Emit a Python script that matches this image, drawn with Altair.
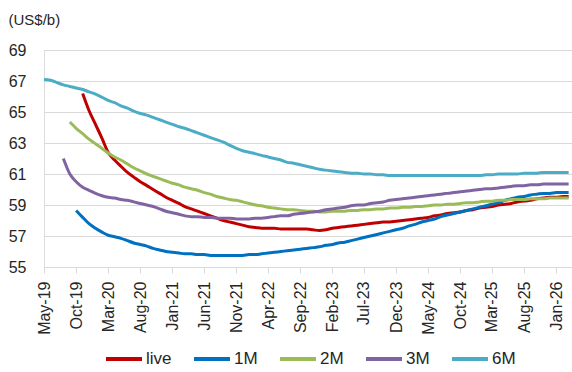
import altair as alt
import pandas as pd

SERIES = ["live", "1M", "2M", "3M", "6M"]
COLORS = ["#C00000", "#0070C0", "#9BBB59", "#8064A2", "#4BACC6"]
# first month of each curve, counted in months from May-2019
START_MONTH = [6, 5, 4, 3, 0]

LIVE = [66.2, 65.1, 64.2, 63.3, 62.4, 61.9, 61.5, 61.1, 60.8, 60.5,
        60.25, 60.0, 59.75, 59.5, 59.3, 59.1, 58.9, 58.75, 58.6, 58.45,
        58.3, 58.15, 58.0, 57.9, 57.8, 57.7, 57.6, 57.55, 57.5, 57.5,
        57.5, 57.45, 57.45, 57.45, 57.45, 57.45, 57.4, 57.35, 57.4, 57.5,
        57.55, 57.6, 57.65, 57.7, 57.75, 57.8, 57.85, 57.9, 57.9, 57.95,
        58.0, 58.05, 58.1, 58.15, 58.2, 58.3, 58.35, 58.45, 58.5, 58.55,
        58.65, 58.7, 58.8, 58.85, 58.9, 59.0, 59.05, 59.1, 59.2, 59.25,
        59.3, 59.4, 59.45, 59.5, 59.5, 59.55, 59.55]

ONE_M = [58.65, 58.2, 57.8, 57.5, 57.25, 57.05, 56.95, 56.85, 56.7, 56.55,
         56.45, 56.35, 56.2, 56.1, 56.0, 55.95, 55.9, 55.85, 55.85, 55.8,
         55.8, 55.75, 55.75, 55.75, 55.75, 55.75, 55.75, 55.8, 55.8, 55.85,
         55.9, 55.95, 56.0, 56.05, 56.1, 56.15, 56.2, 56.25, 56.3, 56.4,
         56.45, 56.55, 56.6, 56.7, 56.8, 56.9, 57.0, 57.1, 57.2, 57.3,
         57.4, 57.5, 57.65, 57.75, 57.9, 58.0, 58.1, 58.25, 58.35, 58.45,
         58.55, 58.65, 58.75, 58.85, 58.95, 59.05, 59.15, 59.3, 59.4, 59.5,
         59.55, 59.65, 59.7, 59.75, 59.75, 59.8, 59.8, 59.8]

TWO_M = [64.35, 63.95, 63.6, 63.25, 62.95, 62.65, 62.35, 62.1, 61.9, 61.65,
         61.4, 61.2, 61.0, 60.85, 60.7, 60.55, 60.4, 60.3, 60.15, 60.05,
         59.95, 59.8, 59.7, 59.55, 59.45, 59.35, 59.3, 59.2, 59.1, 59.0,
         58.95, 58.85, 58.8, 58.75, 58.7, 58.7, 58.65, 58.6, 58.6, 58.55,
         58.55, 58.6, 58.6, 58.6, 58.65, 58.65, 58.7, 58.7, 58.75, 58.75,
         58.8, 58.8, 58.85, 58.85, 58.9, 58.9, 58.95, 59.0, 59.0, 59.05,
         59.05, 59.1, 59.15, 59.15, 59.2, 59.25, 59.25, 59.3, 59.3, 59.35,
         59.35, 59.35, 59.4, 59.4, 59.4, 59.45, 59.45, 59.45, 59.45]

THREE_M = [62.0, 61.0, 60.5, 60.15, 59.95, 59.75, 59.6, 59.5, 59.45, 59.35,
           59.3, 59.2, 59.1, 59.0, 58.9, 58.75, 58.6, 58.5, 58.4, 58.3,
           58.25, 58.25, 58.2, 58.2, 58.15, 58.15, 58.15, 58.1, 58.1, 58.1,
           58.15, 58.15, 58.2, 58.25, 58.3, 58.3, 58.4, 58.45, 58.5, 58.55,
           58.6, 58.7, 58.75, 58.8, 58.85, 58.95, 59.0, 59.0, 59.1, 59.15,
           59.2, 59.3, 59.35, 59.4, 59.45, 59.5, 59.55, 59.6, 59.65, 59.7,
           59.75, 59.8, 59.85, 59.9, 59.95, 60.0, 60.05, 60.05, 60.1, 60.15,
           60.2, 60.25, 60.25, 60.3, 60.3, 60.35, 60.35, 60.35, 60.35, 60.35]

SIX_M = [67.1, 67.05, 66.9, 66.75, 66.65, 66.55, 66.45, 66.3, 66.15, 65.95,
         65.75, 65.6, 65.4, 65.25, 65.05, 64.9, 64.8, 64.65, 64.5, 64.35,
         64.2, 64.05, 63.95, 63.8, 63.65, 63.5, 63.35, 63.2, 63.05, 62.85,
         62.65, 62.5, 62.4, 62.3, 62.2, 62.1, 62.0, 61.9, 61.75, 61.7,
         61.6, 61.5, 61.4, 61.3, 61.25, 61.2, 61.15, 61.1, 61.05, 61.05,
         61.0, 61.0, 60.95, 60.95, 60.9, 60.9, 60.9, 60.9, 60.9, 60.9,
         60.9, 60.9, 60.9, 60.9, 60.9, 60.9, 60.9, 60.9, 60.9, 60.95,
         60.95, 61.0, 61.0, 61.0, 61.0, 61.05, 61.05, 61.05, 61.1, 61.1,
         61.1, 61.1, 61.1]

Y_TICKS = [55, 57, 59, 61, 63, 65, 67, 69]
# tick label months (year, month)
X_TICKS = [(2019, 5), (2019, 10), (2020, 3), (2020, 8), (2021, 1), (2021, 6),
           (2021, 11), (2022, 4), (2022, 9), (2023, 2), (2023, 7), (2023, 12),
           (2024, 5), (2024, 10), (2025, 3), (2025, 8), (2026, 1)]

all_vals = [LIVE, ONE_M, TWO_M, THREE_M, SIX_M]
rows = []
base = pd.Timestamp("2019-05-01")
for name, start, vals in zip(SERIES, START_MONTH, all_vals):
    for i, v in enumerate(vals):
        d = base + pd.DateOffset(months=start + i)
        rows.append({"date": d.strftime("%Y-%m-%dT00:00:00"), "value": v,
                     "series": name, "order": SERIES.index(name)})
df = pd.DataFrame(rows)

FONT = "Liberation Sans"
TXT = "#262626"

chart = alt.Chart(df).mark_line(strokeWidth=3, interpolate="monotone").encode(
    x=alt.X("date:T",
            scale=alt.Scale(domain=[alt.DateTime(year=2019, month=5, date=1),
                                    alt.DateTime(year=2026, month=3, date=17)]),
            axis=alt.Axis(values=[alt.DateTime(year=y, month=m, date=1) for y, m in X_TICKS],
                          format="%b-%y", labelAngle=-90, title=None,
                          grid=False, domainColor="#D9D9D9", tickColor="#D9D9D9",
                          tickSize=6, labelPadding=8, labelFontSize=16,
                          labelFont=FONT, labelColor=TXT)),
    y=alt.Y("value:Q",
            scale=alt.Scale(domain=[55, 69], nice=False, zero=False),
            axis=alt.Axis(values=Y_TICKS, title="(US$/b)", titleAngle=0,
                          titleAlign="left", titleBaseline="alphabetic",
                          titleX=-36, titleY=-26, titleFont=FONT,
                          titleFontSize=15, titleFontWeight="normal",
                          titleColor=TXT, domain=False, ticks=False,
                          gridColor="#D9D9D9", gridWidth=1,
                          labelPadding=18, labelFontSize=16,
                          labelFont=FONT, labelColor=TXT)),
    color=alt.Color("series:N",
                    scale=alt.Scale(domain=SERIES, range=COLORS),
                    legend=alt.Legend(title=None, orient="none", direction="horizontal",
                                      columns=5, legendX=60, legendY=289,
                                      symbolType="stroke", symbolSize=1296,
                                      symbolStrokeWidth=4, labelOffset=2,
                                      columnPadding=14, padding=0,
                                      labelFont=FONT, labelFontSize=17,
                                      labelColor=TXT)),
    order=alt.Order("order:Q"),
).properties(
    width=528, height=217,
    autosize=alt.AutoSizeParams(type="none"),
    padding={"left": 44, "top": 50, "right": 0, "bottom": 105},
).configure_view(stroke=None).configure(background="white")

chart.save("out.html", embed_options={"renderer": "svg", "actions": False})
